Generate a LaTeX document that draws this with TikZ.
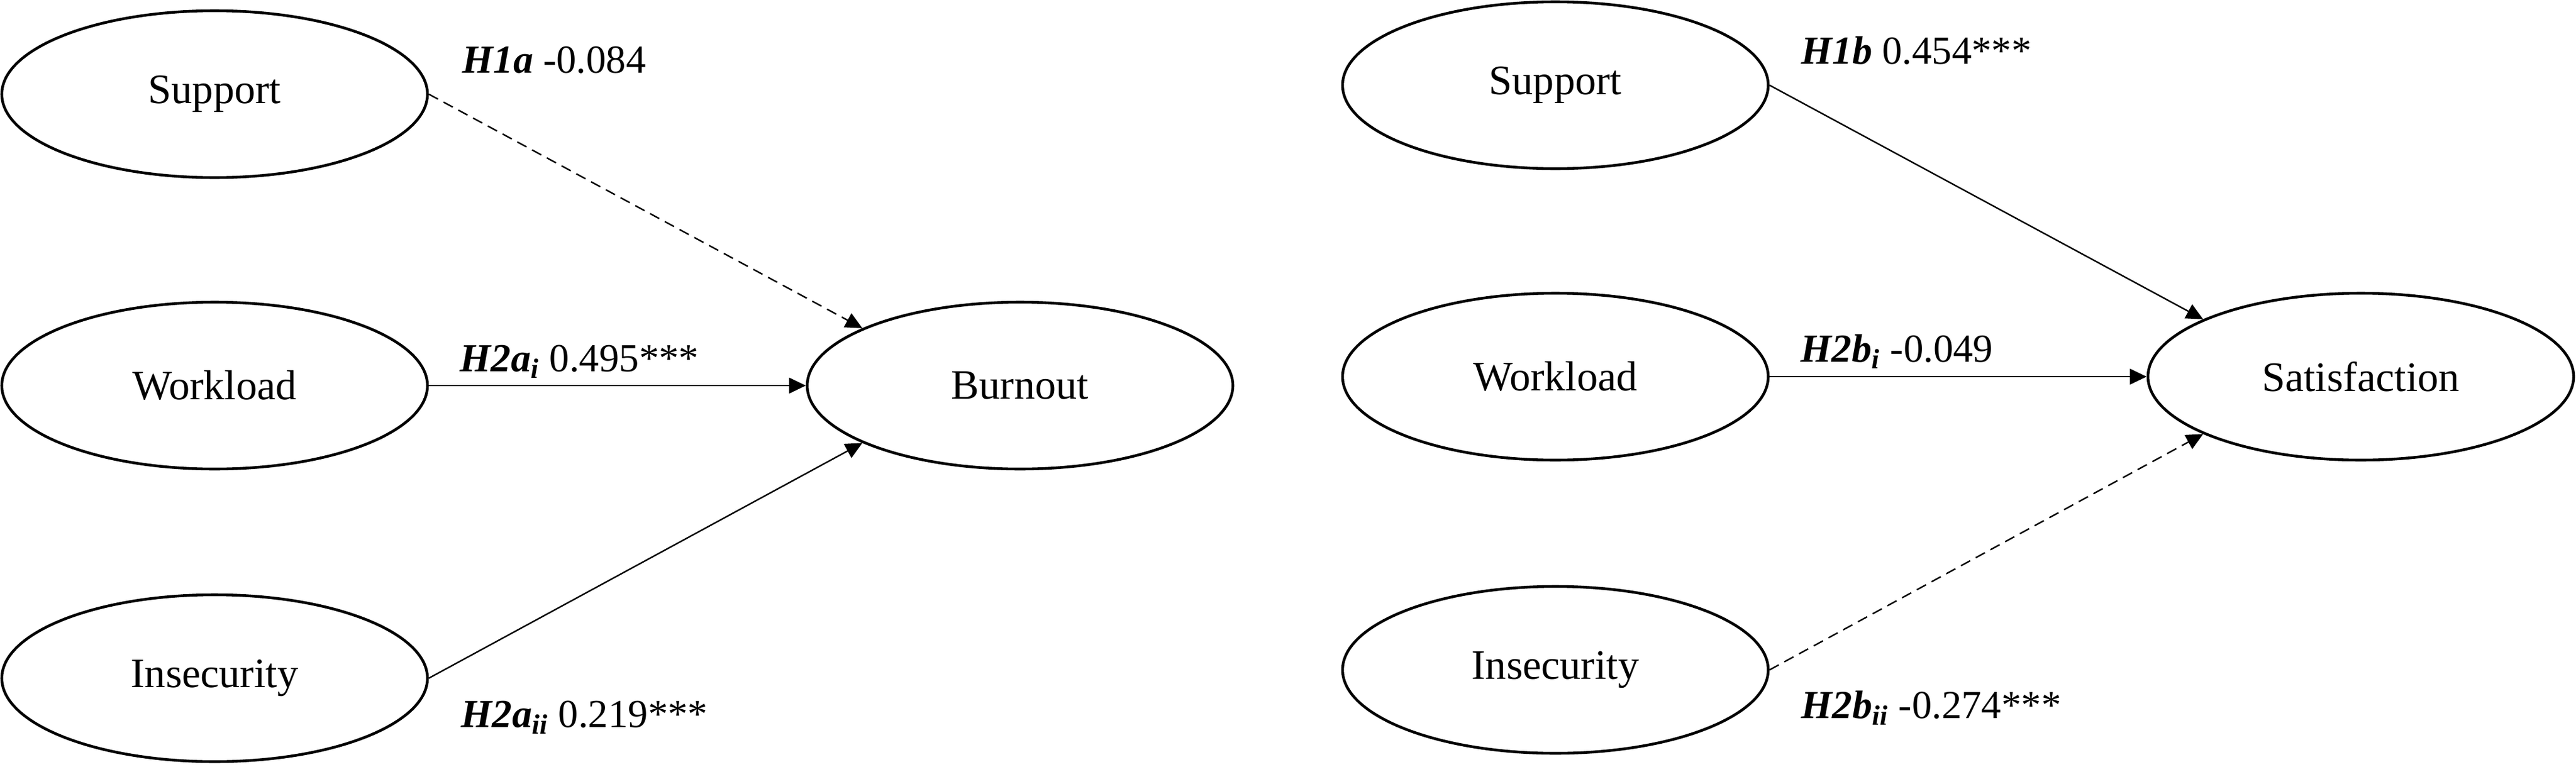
\documentclass[tikz,border=0pt]{standalone}
\usepackage{fontspec}
\setmainfont{Liberation Serif}
\usetikzlibrary{arrows.meta,shapes.geometric}
\tikzset{
	construct/.style={draw, ellipse, line width=1.3pt, inner sep=0pt,
		minimum width=7.14cm, minimum height=2.80cm, font=\fontsize{20}{24}\selectfont},
	effect/.style={line width=0.7pt, -{Triangle[length=8pt,width=7.5pt]}},
	nseffect/.style={effect, dash pattern=on 5pt off 3pt},
	coef/.style={anchor=base west, inner sep=0pt, font=\fontsize{19}{23}\selectfont}
}
\newcommand{\hyp}[1]{\textbf{\textit{#1}}}

\begin{document}
\begin{tikzpicture}
		%%%%% START %%%%%
		\useasboundingbox (0, 0) rectangle (43.21, 12.86);
		
		% burnout model
		\node[construct] (supa) at (3.60, 11.28) {Support};
		\node[construct] (worka) at (3.60, 6.39) {Workload};
		\node[construct] (inseca) at (3.60, 1.48) {Insecurity};
		\node[construct] (burn) at (17.11, 6.39) {Burnout};
		
		\draw[nseffect] (supa.east) -- (burn.160);
		\draw[effect] (worka.east) -- (burn.west);
		\draw[effect] (inseca.east) -- (burn.200);
		
		\node[coef] (h1a) at (7.75, 11.64) {\hyp{H1a} -0.084};
		\node[coef] (h2ai) at (7.71, 6.63) {\hyp{H2a\textsubscript{i}} 0.495***};
		\node[coef] (h2aii) at (7.73, 0.66) {\hyp{H2a\textsubscript{ii}} 0.219***};
		
		% satisfaction model
		\node[construct] (supb) at (26.09, 11.43) {Support};
		\node[construct] (workb) at (26.09, 6.54) {Workload};
		\node[construct] (insecb) at (26.09, 1.62) {Insecurity};
		\node[construct] (satis) at (39.60, 6.54) {Satisfaction};
		
		\draw[effect] (supb.east) -- (satis.160);
		\draw[effect] (workb.east) -- (satis.west);
		\draw[nseffect] (insecb.east) -- (satis.200);
		
		\node[coef] (h1b) at (30.21, 11.79) {\hyp{H1b} 0.454***};
		\node[coef] (h2bi) at (30.20, 6.79) {\hyp{H2b\textsubscript{i}} -0.049};
		\node[coef] (h2bii) at (30.21, 0.81) {\hyp{H2b\textsubscript{ii}} -0.274***};
		
		%%%%% END %%%%%
\end{tikzpicture}
\end{document}
